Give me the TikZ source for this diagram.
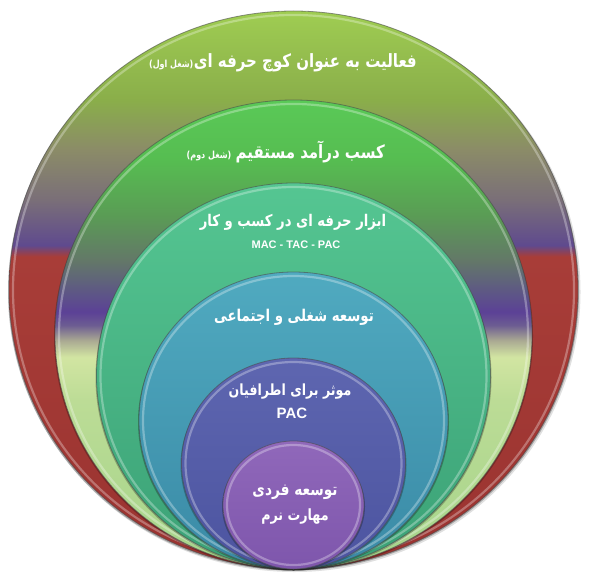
\documentclass[tikz,border=0pt]{standalone}
\usepackage{fontspec}
\newfontfamily\farsi[Script=Arabic]{DejaVu Sans}
\newfontfamily\latin{Liberation Sans}
\TeXXeTstate=1

\definecolor{onetop}{HTML}{9FCD52}
\definecolor{onegreen}{HTML}{8AAE4A}
\definecolor{oneolive}{HTML}{8B8B68}
\definecolor{onegrey}{HTML}{7A6F78}
\definecolor{onepurple}{HTML}{5F4A8E}
\definecolor{onered}{HTML}{A83D38}
\definecolor{onelow}{HTML}{9A3330}
\pgfdeclareverticalshading{ringone}{100bp}{color(0bp)=(onelow); color(25bp)=(onelow);
  color(53bp)=(onered); color(54bp)=(onepurple); color(58.1bp)=(onegrey);
  color(62.5bp)=(oneolive); color(67bp)=(onegreen); color(75bp)=(onetop); color(100bp)=(onetop)}

\definecolor{twotop}{HTML}{5AC957}
\definecolor{twogreen}{HTML}{56BD51}
\definecolor{twomid}{HTML}{5A9C55}
\definecolor{twogrey}{HTML}{637868}
\definecolor{twoviolet}{HTML}{5D5488}
\definecolor{twopurple}{HTML}{5C4196}
\definecolor{twomauve}{HTML}{6C5C92}
\definecolor{twobeige}{HTML}{A9A892}
\definecolor{twopale}{HTML}{D2E5A2}
\definecolor{twolight}{HTML}{BCDC96}
\definecolor{twolow}{HTML}{A5D48A}
\pgfdeclareverticalshading{ringtwo}{100bp}{color(0bp)=(twolow); color(25bp)=(twolow);
  color(43bp)=(twolight); color(47.6bp)=(twopale); color(49.4bp)=(twobeige);
  color(51bp)=(twomauve); color(52.4bp)=(twopurple); color(54.2bp)=(twoviolet);
  color(57.9bp)=(twogrey); color(62.7bp)=(twomid); color(68.6bp)=(twogreen);
  color(75bp)=(twotop); color(100bp)=(twotop)}

\definecolor{threetop}{HTML}{55C692}
\definecolor{threelow}{HTML}{3BA176}
\pgfdeclareverticalshading{ringthree}{100bp}{color(0bp)=(threelow); color(25bp)=(threelow);
  color(75bp)=(threetop); color(100bp)=(threetop)}
\definecolor{fourtop}{HTML}{50AAC0}
\definecolor{fourlow}{HTML}{3A8AA6}
\pgfdeclareverticalshading{ringfour}{100bp}{color(0bp)=(fourlow); color(25bp)=(fourlow);
  color(75bp)=(fourtop); color(100bp)=(fourtop)}
\definecolor{fivetop}{HTML}{5E66B0}
\definecolor{fivelow}{HTML}{4C54A0}
\pgfdeclareverticalshading{ringfive}{100bp}{color(0bp)=(fivelow); color(25bp)=(fivelow);
  color(75bp)=(fivetop); color(100bp)=(fivetop)}
\definecolor{sixtop}{HTML}{9068BA}
\definecolor{sixlow}{HTML}{7E56AC}
\pgfdeclareverticalshading{ringsix}{100bp}{color(0bp)=(sixlow); color(25bp)=(sixlow);
  color(75bp)=(sixtop); color(100bp)=(sixtop)}

\newcommand{\fsz}[1]{\fontsize{#1}{1.2\dimexpr#1pt\relax}\selectfont}

\begin{document}
\begin{tikzpicture}[x=1pt, y=-1pt,
  ring/.style={draw=black!70, draw opacity=.6, line width=.8pt},
  rim/.style={draw=white, draw opacity=.3, line width=2.2pt},
  lbl/.style={text=white, inner sep=0pt, yscale=1.22, transform shape, font=\farsi\bfseries\fsz{15}},
  sublbl/.style={text=white, inner sep=0pt, yscale=1.22, transform shape, font=\farsi\bfseries\fsz{8}},
  latlbl/.style={text=white, inner sep=0pt, font=\latin\bfseries\fsz{11}}]
  \useasboundingbox (0,0) rectangle (601,577);
  % soft shadow under the disc
  \fill[black, opacity=.12] (294.5,292) ellipse [x radius=286pt, y radius=280pt];
  % nested rings, all touching at the bottom
  \foreach \cy/\rx/\ry/\sh in {290/284.5/279/ringone, 334.5/238.5/234.5/ringtwo,
      376/197/193/ringthree, 420.5/154.5/148.5/ringfour,
      463.5/112/105.5/ringfive, 505/70.5/64/ringsix}{
    \fill[black, opacity=.25] (293.5,\cy+1.5) ellipse [x radius=\rx pt+1pt, y radius=\ry pt];
    \shadedraw[shading=\sh, ring] (293.5,\cy) ellipse [x radius=\rx pt, y radius=\ry pt];
    \draw[rim] (293.5,\cy) ellipse [x radius=\rx pt-4pt, y radius=\ry pt-4pt];
  }
  % labels
  \node[lbl, anchor=east] (coach) at (417,63) {\beginR فعالیت به عنوان کوچ حرفه ای\endR};
  \node[sublbl, anchor=base east] (coachjob) at (coach.base west) {\beginR(شغل اول)\endR};
  \node[lbl, anchor=east] (income) at (385,152) {\beginR کسب درآمد مستقیم\endR};
  \node[sublbl, anchor=base east] (incomejob) at ([xshift=-4pt]income.base west) {\beginR(شغل دوم)\endR};
  \node[lbl, font=\farsi\bfseries\fsz{13.2}] (tools) at (293,222) {\beginR ابزار حرفه ای در کسب و کار\endR};
  \node[latlbl] (toolsabbr) at (296,245) {MAC - TAC - PAC};
  \node[lbl, font=\farsi\bfseries\fsz{13.3}] (social) at (294,317) {\beginR توسعه شغلی و اجتماعی\endR};
  \node[lbl, font=\farsi\bfseries\fsz{12.6}] (others) at (290,392) {\beginR موثر برای اطرافیان\endR};
  \node[latlbl, font=\latin\bfseries\fsz{15}] (othersabbr) at (292,413) {PAC};
  \node[lbl, font=\farsi\bfseries\fsz{13.7}] (self) at (295,492) {\beginR توسعه فردی\endR};
  \node[lbl, font=\farsi\bfseries\fsz{12.7}] (soft) at (295,517) {\beginR مهارت نرم\endR};
\end{tikzpicture}
\end{document}
